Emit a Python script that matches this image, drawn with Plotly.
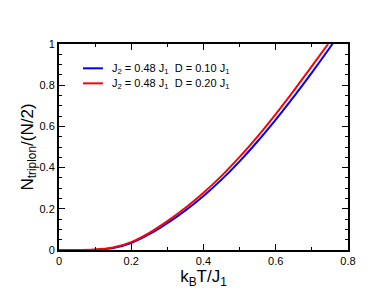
import plotly.graph_objects as go

# Temperature grid (k_B T / J_1) and triplon fraction for the two parameter sets
t_blue = [0, 0.05, 0.1, 0.15, 0.2, 0.25, 0.3, 0.35, 0.4, 0.45, 0.5, 0.55, 0.6, 0.65, 0.7, 0.757]
n_blue = [0, 0, 0.001, 0.010, 0.034, 0.0765, 0.1305, 0.1925, 0.2625, 0.3415, 0.4305, 0.528, 0.633, 0.7445, 0.861, 1.0]

t_red = [0, 0.05, 0.1, 0.15, 0.2, 0.25, 0.3, 0.35, 0.4, 0.45, 0.5, 0.55, 0.6, 0.65, 0.7, 0.745]
n_red = [0, 0, 0.002, 0.012, 0.038, 0.083, 0.140, 0.205, 0.278, 0.360, 0.452, 0.552, 0.660, 0.774, 0.893, 1.0]

label_blue = "J<sub>2</sub> = 0.48 J<sub>1</sub>  D = 0.10 J<sub>1</sub>"
label_red = "J<sub>2</sub> = 0.48 J<sub>1</sub>  D = 0.20 J<sub>1</sub>"

x_ticks = [0, 0.2, 0.4, 0.6, 0.8]
x_ticklabels = ["0", "0.2", "0.4", "0.6", "0.8"]
y_ticks = [0, 0.2, 0.4, 0.6, 0.8, 1.0]
y_ticklabels = ["0", "0.2", "0.4", "0.6", "0.8", "1"]

FONT = "Liberation Sans, Arial, Helvetica, sans-serif"

fig = go.Figure()
fig.add_trace(go.Scatter(x=t_blue, y=n_blue, mode="lines", name=label_blue, showlegend=False,
                         line=dict(color="#0000ff", width=2, shape="spline")))
fig.add_trace(go.Scatter(x=t_red, y=n_red, mode="lines", name=label_red, showlegend=False,
                         line=dict(color="#ff0000", width=2, shape="spline")))

# Legend drawn as line samples + text annotations (tighter spacing than plotly's legend)
legend_rows = [(label_blue, "#0000ff", 0.882), (label_red, "#ff0000", 0.809)]
for text, color, yy in legend_rows:
    fig.add_shape(type="line", xref="paper", yref="paper", x0=0.083, x1=0.152, y0=yy, y1=yy,
                  line=dict(color=color, width=2))
    fig.add_annotation(xref="paper", yref="paper", x=0.176, y=yy, xanchor="left", yanchor="middle",
                       text=text, showarrow=False, yshift=-1,
                       font=dict(family=FONT, size=11, color="black"))

axis_common = dict(
    showgrid=False, zeroline=False, showline=True, linecolor="black", linewidth=2,
    mirror="allticks", ticks="inside", tickcolor="black", ticklen=6, tickwidth=1,
    tickfont=dict(family=FONT, size=11, color="black"),
)

fig.update_xaxes(range=[0, 0.8], tickvals=x_ticks, ticktext=x_ticklabels,
                 minor=dict(dtick=0.1, ticks="inside", ticklen=3, tickcolor="black"),
                 title=dict(text="k<sub>B</sub>T/J<sub>1</sub>", font=dict(family=FONT, size=17, color="black"),
                            standoff=2),
                 automargin=True,
                 **axis_common)
fig.update_yaxes(range=[0, 1.0], tickvals=y_ticks, ticktext=y_ticklabels,
                 minor=dict(dtick=0.05, ticks="inside", ticklen=3, tickcolor="black"),
                 title=dict(text="N<sub>triplon</sub>/(N/2)", font=dict(family=FONT, size=17, color="black"),
                            standoff=2),
                 automargin=True,
                 **axis_common)

fig.update_layout(
    width=374, height=287,
    margin=dict(l=51, r=34, t=36, b=45),
    paper_bgcolor="white", plot_bgcolor="white",
    font=dict(family=FONT, size=11, color="black"),
    showlegend=False,
)

fig.write_html("out.html")
